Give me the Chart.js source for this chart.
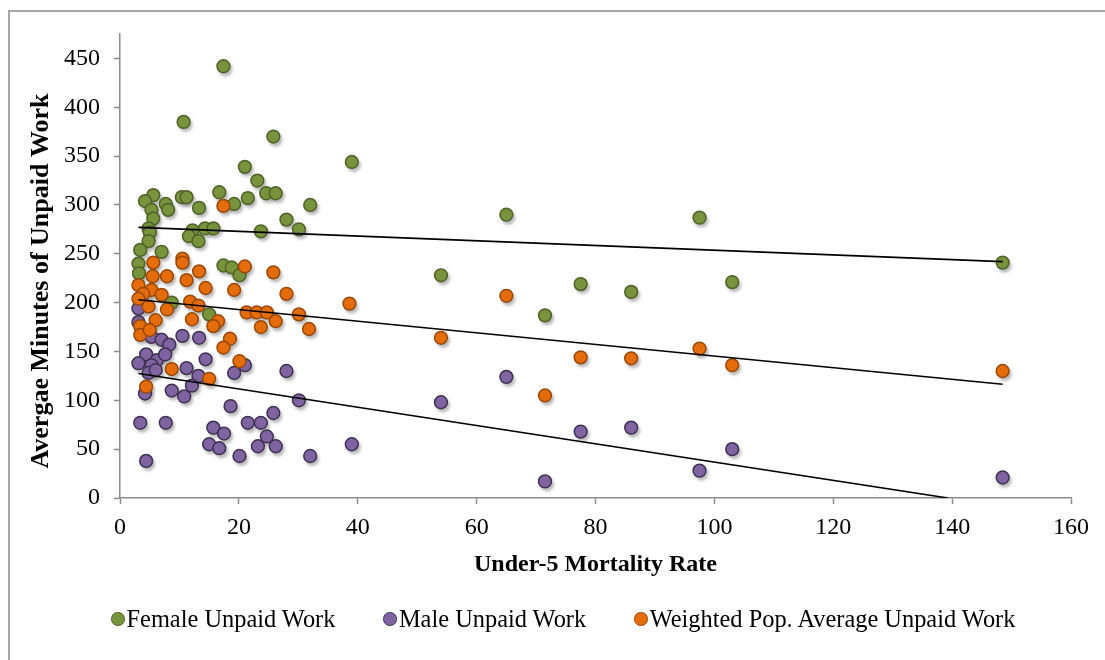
<!DOCTYPE html>
<html><head><meta charset="utf-8">
<script src="https://cdn.jsdelivr.net/npm/chart.js@4.4.1/dist/chart.umd.min.js"></script>
<style>
html,body{margin:0;padding:0;background:#fff;}
#wrap{position:relative;width:1105px;height:660px;overflow:hidden;background:#fff;}
#frame{position:absolute;left:8px;top:10px;width:1300px;height:900px;border:2px solid #a6a6a6;box-sizing:border-box;}
#c{position:absolute;left:0;top:0;}
#legend{position:absolute;left:111px;top:604px;display:flex;gap:48px;font-family:'Liberation Serif','Times New Roman',serif;font-size:24.4px;line-height:30px;color:#000;white-space:nowrap;}
.item{display:flex;align-items:center;}
.dot{width:13.5px;height:13.5px;border-radius:50%;box-sizing:border-box;border:1.5px solid;margin-right:2px;}
</style></head>
<body>
<div id="wrap">
<div id="frame"></div>
<canvas id="c" width="1105" height="660"></canvas>
<div id="legend"></div>
</div>
<script>
// ---- data ----
const seriesNames = ['Female Unpaid Work', 'Male Unpaid Work', 'Weighted Pop. Average Unpaid Work'];
const xTitle = 'Under-5 Mortality Rate';
const yTitle = 'Avergae Minutes of Unpaid Work';

const femaleX = [17.4,10.7,25.8,21.0,23.1,5.6,4.2,7.7,8.1,10.4,11.2,16.7,19.2,21.5,24.6,26.2,32.0,13.3,5.3,5.6,28.0,30.1,23.7,4.8,12.2,14.3,15.7,11.6,13.2,5.0,4.8,3.4,7.0,3.1,3.2,17.4,18.8,20.1,8.7,15.0,39.0,54.0,65.0,71.5,77.5,86.0,97.5,103.0,148.5];
const femaleY = [442,385,370,339,325,310,304,301,295,308,308,313,301,307,312,312,300,297,295,286,285,275,273,276,274,276,276,268,263,272,263,254,252,240,230,238,236,228,200,188,344,228,290,187,219,211,287,221,241];

const maleX = [3.1,3.1,4.5,5.3,7.0,8.3,10.5,13.3,4.4,6.2,7.6,3.1,5.3,4.8,6.0,14.4,11.2,13.2,12.1,8.7,10.8,4.2,19.2,21.0,28.0,18.6,25.8,3.4,7.7,15.7,17.5,21.5,23.7,24.7,15.0,16.7,23.2,26.2,20.1,4.4,30.1,32.0,39.0,54.0,65.0,71.5,77.5,86.0,97.5,103.0,148.5];
const maleY = [194,180,170,165,162,157,166,164,147,141,147,138,136,128,131,142,133,125,115,110,104,107,128,136,130,94,87,77,77,72,66,77,77,63,55,51,53,53,43,38,100,43,55,98,124,17,68,72,28,50,21];

const weightedX = [17.4,5.6,10.5,10.5,13.3,21.0,25.8,5.5,7.9,11.2,3.1,14.4,19.2,28.0,5.3,3.9,7.0,3.1,11.8,13.2,38.6,4.8,7.9,21.3,23.0,24.7,30.1,26.2,12.1,16.5,15.7,23.7,31.8,6.0,3.4,3.4,5.0,18.5,17.4,20.1,8.7,15.0,4.4,54.0,65.0,71.5,77.5,86.0,97.5,103.0,148.5];
const weightedY = [299,241,245,241,232,237,231,227,227,223,218,215,213,209,213,209,208,204,201,197,199,196,193,190,190,190,188,181,183,181,176,175,173,182,176,167,172,163,154,140,132,122,114,164,207,105,144,143,153,136,130];

// linear trend lines (end points)
const trendFemaleX = [3.1, 148.5];
const trendFemaleY = [277, 242];
const trendWeightedX = [3.1, 148.5];
const trendWeightedY = [203, 116.5];
const trendMaleX = [3.1, 139.3];
const trendMaleY = [127.5, 0];

const xTickValues = [0, 20, 40, 60, 80, 100, 120, 140, 160];
const yTickValues = [0, 50, 100, 150, 200, 250, 300, 350, 400, 450];
const yAxisMax = 475;

// ---- helpers ----
const FONT = "'Liberation Serif','Times New Roman',serif";
const pts = (xs, ys) => xs.map((x, i) => ({x, y: ys[i]}));
const marker = (label, xs, ys, fill, border, order) => ({
  label, data: pts(xs, ys), backgroundColor: fill, borderColor: border,
  borderWidth: 1.5, pointRadius: 6.4, pointHoverRadius: 6.4, order, showLine: false
});
const trend = (xs, ys) => ({
  label: 'trend', data: pts(xs, ys), showLine: true, borderColor: '#000', borderWidth: 1.6,
  pointRadius: 0, fill: false, order: 0, isTrend: true
});

const shadowPlugin = {
  id: 'markerShadow',
  beforeDatasetsDraw(chart) {
    const c = chart.ctx, a = chart.chartArea;
    c.save();
    c.beginPath(); c.rect(a.left, a.top - 10, a.right - a.left + 10, a.bottom - a.top + 10); c.clip();
    c.filter = 'blur(1.6px)';
    c.fillStyle = 'rgba(0,0,0,0.28)';
    chart.data.datasets.forEach((ds, i) => {
      if (ds.isTrend) return;
      chart.getDatasetMeta(i).data.forEach(p => {
        c.beginPath(); c.arc(p.x + 2, p.y + 3, 7, 0, Math.PI * 2); c.fill();
      });
    });
    c.restore();
  }
};

// y-axis title drawn beside the y scale (Excel places it slightly below centre)
const yTitlePlugin = {
  id: 'yTitle',
  afterDraw(chart) {
    const c = chart.ctx, s = chart.scales.y;
    c.save();
    c.translate(s.left + 21, (s.top + s.bottom) / 2 + 15);
    c.rotate(-Math.PI / 2);
    c.font = 'bold 26px ' + FONT;
    c.fillStyle = '#000';
    c.textAlign = 'center';
    c.textBaseline = 'middle';
    c.fillText(yTitle, 0, 0);
    c.restore();
  }
};

const axisColor = '#8c8c8c';
const chart = new Chart(document.getElementById('c'), {
  type: 'scatter',
  data: {
    datasets: [
      marker(seriesNames[0], femaleX, femaleY, '#77933C', '#4F6228', 3),
      marker(seriesNames[1], maleX, maleY, '#8064A2', '#3F3151', 2),
      marker(seriesNames[2], weightedX, weightedY, '#E46C0A', '#984807', 1),
      trend(trendFemaleX, trendFemaleY),
      trend(trendWeightedX, trendWeightedY),
      trend(trendMaleX, trendMaleY)
    ]
  },
  options: {
    responsive: false, animation: false,
    layout: {padding: {left: 20, right: 34, top: 34, bottom: 80}},
    plugins: {legend: {display: false}, tooltip: {enabled: false}},
    events: [],
    scales: {
      x: {
        type: 'linear', min: xTickValues[0], max: xTickValues[xTickValues.length - 1],
        afterBuildTicks(s) { s.ticks = xTickValues.map(v => ({value: v})); },
        ticks: {color: '#000', font: {family: FONT, size: 24}, padding: 9, maxRotation: 0},
        grid: {drawOnChartArea: false, drawTicks: true, tickLength: 6, color: axisColor, tickWidth: 1.5},
        border: {color: axisColor, width: 1.5},
        title: {display: true, text: xTitle, color: '#000',
                font: {family: FONT, size: 24, weight: 'bold'}, padding: {top: 0, bottom: 1}},
        afterFit(s) { s.height = 82; }
      },
      y: {
        type: 'linear', min: yTickValues[0], max: yAxisMax,
        afterBuildTicks(s) { s.ticks = yTickValues.map(v => ({value: v})); },
        ticks: {color: '#000', font: {family: FONT, size: 24}, padding: 14},
        grid: {drawOnChartArea: false, drawTicks: true, tickLength: 6, color: axisColor, tickWidth: 1.5},
        border: {color: axisColor, width: 1.5},
        title: {display: false},
        afterFit(s) { s.width = 100; }
      }
    }
  },
  plugins: [shadowPlugin, yTitlePlugin]
});

// HTML legend built from the chart's datasets
const lg = document.getElementById('legend');
chart.data.datasets.forEach(ds => {
  if (ds.isTrend) return;
  const it = document.createElement('div'); it.className = 'item';
  const d = document.createElement('span'); d.className = 'dot';
  d.style.background = ds.backgroundColor; d.style.borderColor = ds.borderColor;
  const t = document.createElement('span'); t.textContent = ds.label;
  it.appendChild(d); it.appendChild(t); lg.appendChild(it);
});
</script>
</body></html>
